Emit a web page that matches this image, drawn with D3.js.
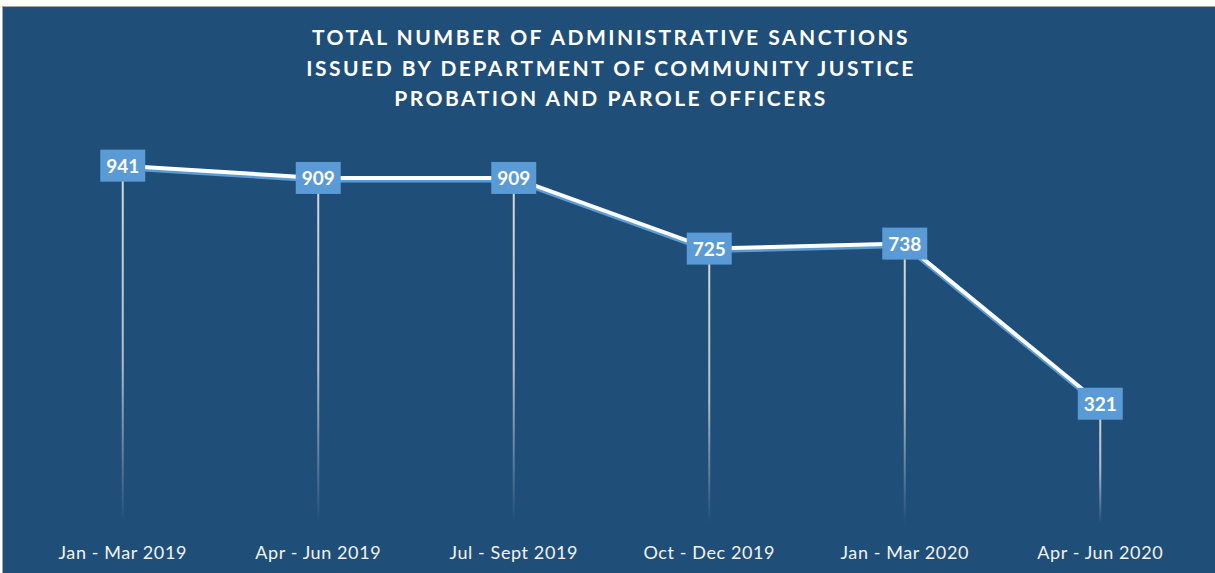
<!DOCTYPE html>
<html>
<head>
<meta charset="utf-8">
<script src="https://cdn.jsdelivr.net/npm/d3@7"></script>
<style>
  body { margin: 0; background: #fff; }
  svg { display: block; }
  text { font-family: Lato, "Open Sans", sans-serif; }
</style>
</head>
<body>
<script>
// data
var quarters = ["Jan - Mar 2019", "Apr - Jun 2019", "Jul - Sept 2019", "Oct - Dec 2019", "Jan - Mar 2020", "Apr - Jun 2020"];
var sanctions = [941, 909, 909, 725, 738, 321];
var titleLines = ["TOTAL NUMBER OF ADMINISTRATIVE SANCTIONS", "ISSUED BY DEPARTMENT OF COMMUNITY JUSTICE", "PROBATION AND PAROLE OFFICERS"];

var w = 1215;
var h = 573;
var bg = "#1f4e79";
var boxColor = "#5b9bd5";

var svg = d3.select("body")
  .append("svg")
  .attr("width", w)
  .attr("height", h);

var defs = svg.append("defs");
var grad = defs.append("linearGradient")
  .attr("id", "dropFade")
  .attr("gradientUnits", "objectBoundingBox")
  .attr("x1", 0).attr("y1", 0).attr("x2", 0).attr("y2", 1);
grad.append("stop").attr("offset", "0%").attr("stop-color", "#d9d9d9").attr("stop-opacity", 1);
grad.append("stop").attr("offset", "55%").attr("stop-color", "#d9d9d9").attr("stop-opacity", 0.8);
grad.append("stop").attr("offset", "100%").attr("stop-color", "#d9d9d9").attr("stop-opacity", 0);

// chart background
svg.append("rect")
  .attr("x", 2.5)
  .attr("y", 6.5)
  .attr("width", w - 2)
  .attr("height", h - 6)
  .attr("fill", bg)
  .attr("stroke", "#a6a6a6")
  .attr("stroke-width", 1);

// title
svg.append("text")
  .attr("x", 611)
  .attr("y", 45)
  .attr("text-anchor", "middle")
  .attr("fill", "#fff")
  .attr("font-size", 21)
  .attr("font-weight", "bold")
  .attr("letter-spacing", 2.5)
  .selectAll("tspan")
  .data(titleLines)
  .enter()
  .append("tspan")
  .attr("x", 611)
  .attr("dy", (d, i) => i === 0 ? 0 : 30.5)
  .text(d => d);

var xScale = d3.scaleBand()
  .domain(quarters)
  .range([25, 1198]);

var yScale = d3.scaleLinear()
  .domain([0, 1000])
  .range([527, 143]);

var cx = d => xScale(d) + xScale.bandwidth() / 2;

// drop lines
svg.selectAll(".drop")
  .data(sanctions)
  .enter()
  .append("rect")
  .attr("class", "drop")
  .attr("x", (d, i) => cx(quarters[i]) - 1)
  .attr("y", d => yScale(d))
  .attr("width", 2)
  .attr("height", d => 524 - yScale(d))
  .attr("fill", "url(#dropFade)");

var line = d3.line()
  .x((d, i) => cx(quarters[i]))
  .y(d => yScale(d));

// shadow line
svg.append("path")
  .datum(sanctions)
  .attr("d", line)
  .attr("fill", "none")
  .attr("stroke", boxColor)
  .attr("stroke-width", 4)
  .attr("transform", "translate(0, 2.5)");

svg.append("path")
  .datum(sanctions)
  .attr("d", line)
  .attr("fill", "none")
  .attr("stroke", "#fff")
  .attr("stroke-width", 4);

// labels
var labels = svg.selectAll(".lbl")
  .data(sanctions)
  .enter()
  .append("g")
  .attr("class", "lbl")
  .attr("transform", (d, i) => `translate(${cx(quarters[i])}, ${yScale(d)})`);

labels.append("rect")
  .attr("x", -22.5)
  .attr("y", -16)
  .attr("width", 45)
  .attr("height", 32)
  .attr("fill", boxColor);

labels.append("text")
  .attr("y", 7)
  .attr("text-anchor", "middle")
  .attr("fill", "#fff")
  .attr("font-size", 19)
  .attr("font-weight", "bold")
  .text(d => d);

// x axis labels
var xAxis = d3.axisBottom(xScale).tickSize(0).tickPadding(0);
var xAxisGroup = svg.append("g")
  .attr("transform", "translate(0, 546)")
  .call(xAxis);
xAxisGroup.select(".domain").remove();
xAxisGroup.selectAll("text")
  .attr("fill", "#f2f2f2")
  .attr("font-size", 18)
  .attr("letter-spacing", 0.6)
  .style("font-family", "Lato, 'Open Sans', sans-serif");
</script>
</body>
</html>
